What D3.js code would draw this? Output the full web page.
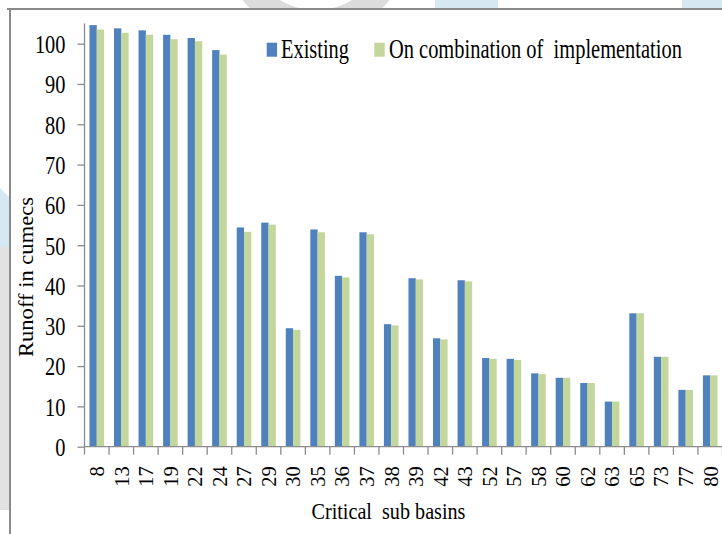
<!DOCTYPE html>
<html>
<head>
<meta charset="utf-8">
<script src="https://cdn.jsdelivr.net/npm/d3@7"></script>
<style>
  html, body { margin: 0; padding: 0; background: #fff; }
  svg { display: block; }
  text { font-family: "Liberation Serif", "Times New Roman", serif; fill: #000; white-space: pre; }
</style>
</head>
<body>
<div id="chart"></div>
<script>
// Critical sub basins and peak runoff (cumecs)
const basins = ["8","13","17","19","22","24","27","29","30","35","36","37","38","39","42","43","52","57","58","60","62","63","65","73","77","80"];
const existing = [104.6,103.8,103.3,102.2,101.4,98.4,54.4,55.6,29.4,53.9,42.4,53.2,30.4,41.8,26.9,41.3,22.0,21.8,18.2,17.1,15.8,11.2,33.1,22.3,14.1,17.7];
const combined = [103.5,102.7,102.2,101.1,100.6,97.3,53.3,55.1,29.0,53.2,42.0,52.7,30.1,41.5,26.6,41.0,21.8,21.5,18.0,17.1,15.8,11.2,33.1,22.3,14.1,17.7];
const seriesNames = ["Existing", "On combination of  implementation"];
const seriesColors = ["#4f81bd", "#c3d69b"];
const yTicks = [0,10,20,30,40,50,60,70,80,90,100];

const W = 722, H = 534;
const svg = d3.select("#chart").append("svg").attr("width", W).attr("height", H);

// Squeeze a text horizontally so it spans `len` pixels, keeping its anchor point fixed.
function condense(sel, len, x, y, anchor) {
  sel.each(function(d, i) {
    const t = d3.select(this);
    const L = typeof len === "function" ? len(d, i) : len;
    const X = typeof x === "function" ? x(d, i) : x;
    const Y = typeof y === "function" ? y(d, i) : y;
    const natural = this.getComputedTextLength();
    const k = L / natural;
    t.attr("x", 0).attr("y", 0).attr("text-anchor", anchor || "start")
     .attr("transform", `translate(${X},${Y}) scale(${k},1)`);
  });
}

// faint background decoration around the frame
const deco = svg.append("g");
const defs = svg.append("defs");
defs.append("clipPath").attr("id", "topStrip")
  .append("rect").attr("x", 0).attr("y", 0).attr("width", W).attr("height", 9);
const ring = d3.arc().innerRadius(70).outerRadius(95).startAngle(0).endAngle(2 * Math.PI);
deco.append("g").attr("clip-path", "url(#topStrip)")
  .append("path").attr("d", ring()).attr("transform", "translate(316,-60)").attr("fill", "#dcdcdc");
deco.append("rect").attr("x", 435).attr("y", 0).attr("width", 63).attr("height", 9).attr("fill", "#d6e8f1");
deco.append("rect").attr("x", 682).attr("y", 0).attr("width", 40).attr("height", 9).attr("fill", "#d6e8f1");
deco.append("polygon").attr("points", "0,188 10,198 10,247 0,247").attr("fill", "#d6e8f1");
deco.append("rect").attr("x", 0).attr("y", 247).attr("width", 10).attr("height", 263).attr("fill", "#e2e2e2");

// chart frame (top and left edges)
svg.append("line").attr("x1", 7).attr("x2", W).attr("y1", 9).attr("y2", 9)
  .attr("stroke", "#8a8a8a").attr("stroke-width", 2);
svg.append("line").attr("x1", 10).attr("x2", 10).attr("y1", 9).attr("y2", H)
  .attr("stroke", "#8a8a8a").attr("stroke-width", 2);

// scales
const x0 = d3.scaleBand().domain(basins).range([84.5, 722.5]).padding(0);
const x1 = d3.scaleBand().domain(seriesNames).range([0, x0.bandwidth()])
  .paddingInner(0).paddingOuter(0.68);
const y = d3.scaleLinear().domain([0, 105]).range([446.7, 23.5]);

// bars
const rows = basins.map((b, i) => ({ basin: b, values: [existing[i], combined[i]] }));
const groups = svg.append("g").selectAll("g").data(rows).join("g")
  .attr("transform", d => `translate(${x0(d.basin)},0)`);
groups.selectAll("rect")
  .data(d => d.values.map((v, k) => ({ name: seriesNames[k], value: v, color: seriesColors[k] })))
  .join("rect")
  .attr("x", d => x1(d.name))
  .attr("width", x1.bandwidth())
  .attr("y", d => y(d.value))
  .attr("height", d => y(0) - y(d.value))
  .attr("fill", d => d.color);

// y axis
const yAxis = d3.axisLeft(y).tickValues(yTicks).tickSize(7).tickPadding(12).tickFormat(d3.format("d"));
const gy = svg.append("g").attr("transform", "translate(84.5,0)").call(yAxis);
gy.select(".domain").attr("d", `M0,${y(105)}V${y(0)}`).attr("stroke", "#8c8c8c").attr("stroke-width", 1.3);
gy.selectAll(".tick line").attr("stroke", "#8c8c8c").attr("stroke-width", 1.3);
gy.selectAll(".tick text")
  .attr("font-family", "Liberation Serif, Times New Roman, serif")
  .attr("font-size", 26)
  .attr("dy", "0.34em")
  .call(condense, d => String(d).length * 10.2, -19, 0, "end");

// x axis: ticks at category boundaries
const gx = svg.append("g").attr("transform", `translate(0,${y(0)})`);
gx.append("line").attr("x1", 84.5).attr("x2", 722.5).attr("y1", 0).attr("y2", 0)
  .attr("stroke", "#8c8c8c").attr("stroke-width", 1.3);
const edges = basins.map(b => x0(b)).concat([x0.range()[1]]);
gx.selectAll("line.tk").data(edges).join("line").attr("class", "tk")
  .attr("x1", d => d).attr("x2", d => d)
  .attr("y1", 0).attr("y2", 8)
  .attr("stroke", "#8c8c8c").attr("stroke-width", 1.3);
gx.selectAll("text").data(basins).join("text")
  .attr("transform", d => `translate(${x0(d) + x0.bandwidth() / 2 + 0.3},19.5) rotate(-90)`)
  .attr("text-anchor", "end")
  .attr("dy", "0.34em")
  .attr("font-size", 20.5)
  .text(d => d);

// axis titles
svg.append("text")
  .attr("font-size", 24)
  .text("Critical  sub basins")
  .call(condense, 154, 311.5, 518.5, "start");
svg.append("text")
  .attr("transform", "translate(33,277) rotate(-90)")
  .attr("text-anchor", "middle")
  .attr("font-size", 20.5)
  .attr("textLength", 160).attr("lengthAdjust", "spacingAndGlyphs")
  .text("Runoff in cumecs");

// legend
const legend = [
  { sx: 266.7, tx: 281, len: 68 },
  { sx: 374.3, tx: 389, len: 293 }
];
const lg = svg.append("g").selectAll("g").data(seriesNames).join("g");
lg.append("rect")
  .attr("x", (d, i) => legend[i].sx).attr("y", 42.7)
  .attr("width", 10.4).attr("height", 14)
  .attr("fill", (d, i) => seriesColors[i]);
lg.append("text")
  .attr("font-size", 27)
  .text(d => d)
  .call(condense, (d, i) => legend[i].len, (d, i) => legend[i].tx, 58.3, "start");
</script>
</body>
</html>
